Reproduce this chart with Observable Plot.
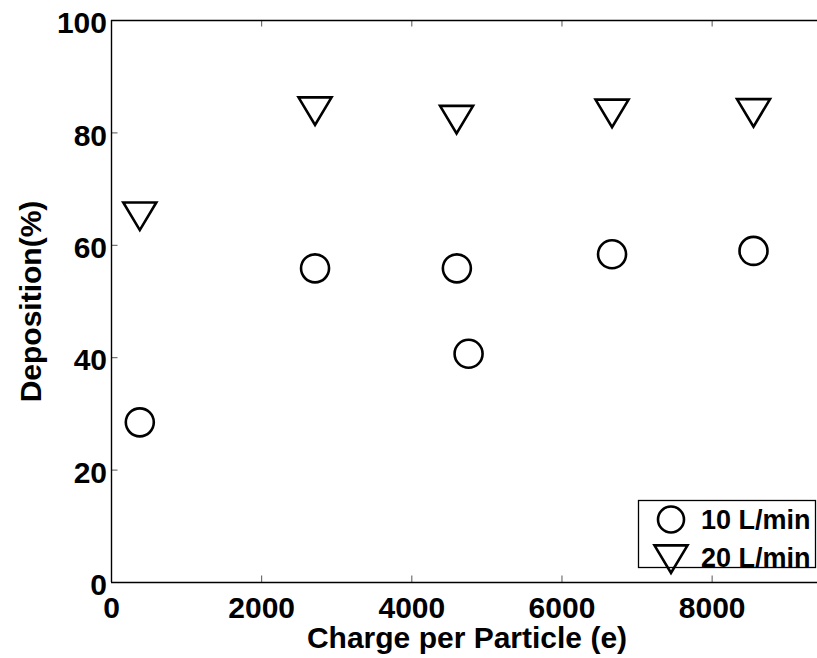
<!DOCTYPE html>
<html>
<head>
<meta charset="utf-8">
<script src="https://cdn.jsdelivr.net/npm/d3@7"></script>
<script src="https://cdn.jsdelivr.net/npm/@observablehq/plot@0.6"></script>
<style>
  body { margin: 0; background: #fff; }
  #wrap { position: relative; width: 817px; height: 658px; overflow: hidden; background: #fff; }
  #wrap svg { position: absolute; left: 0; top: 0; }
</style>
</head>
<body>
<div id="wrap"></div>
<script>
// ---- data ----
const seriesNames = ["10 L/min", "20 L/min"];
const charge10 = [377, 2711, 4600, 4756, 6667, 8551];
const deposition10 = [28.5, 55.9, 55.9, 40.7, 58.4, 59.0];
const charge20 = [377, 2711, 4596, 6667, 8551];
const deposition20 = [65.2, 83.9, 82.4, 83.5, 83.6];
const xTicks = [0, 2000, 4000, 6000, 8000];
const yTicks = [0, 20, 40, 60, 80, 100];
const xDomain = [0, 9470];
const yDomain = [0, 100];
const xLabel = "Charge per Particle (e)";
const yLabel = "Deposition(%)";

// ---- build table ----
const data = [
  ...charge10.map((c, i) => ({charge: c, deposition: deposition10[i], series: seriesNames[0]})),
  ...charge20.map((c, i) => ({charge: c, deposition: deposition20[i], series: seriesNames[1]}))
];

const FONT = '"Liberation Sans", Arial, Helvetica, sans-serif';
const W = 817, H = 658, mL = 111, mT = 20, mB = 76, mR = -5;
const plotH = H - mT - mB, plotW = W - mL - mR;
const tickLen = 6.5;
const yPerPx = (yDomain[1] - yDomain[0]) / plotH;
const xPerPx = (xDomain[1] - xDomain[0]) / plotW;

// downward triangle centred on its bounding box (MATLAB 'v' marker)
const triDown = {
  draw(ctx, size) {
    const s = Math.sqrt(size / Math.PI);
    const a = s * 1.18, t = s * 0.97, b = s * 1.0;
    ctx.moveTo(-a, -t);
    ctx.lineTo(a, -t);
    ctx.lineTo(0, b);
    ctx.closePath();
  }
};

const chart = Plot.plot({
  width: W, height: H,
  marginLeft: mL, marginTop: mT, marginBottom: mB, marginRight: mR,
  x: {domain: xDomain, axis: null},
  y: {domain: yDomain, axis: null},
  style: {fontFamily: FONT, fontWeight: "bold", fontSize: "30px", background: "white", color: "black", overflow: "hidden"},
  marks: [
    // inner ticks (bottom, top, left)
    Plot.ruleX(xTicks.slice(1), {y1: yDomain[0], y2: yDomain[0] + tickLen * yPerPx, stroke: "#555", strokeWidth: 1}),
    Plot.ruleX(xTicks.slice(1), {y1: yDomain[1], y2: yDomain[1] - tickLen * yPerPx, stroke: "#555", strokeWidth: 1}),
    Plot.ruleY(yTicks.slice(1, -1), {x1: xDomain[0], x2: xDomain[0] + tickLen * xPerPx, stroke: "#555", strokeWidth: 1}),
    // axis box lines
    Plot.ruleY([yDomain[0], yDomain[1]], {stroke: "black", strokeWidth: 1.4}),
    Plot.ruleX([xDomain[0]], {stroke: "black", strokeWidth: 1.4}),
    // tick labels
    Plot.axisX({ticks: xTicks, tickSize: 0, tickPadding: 14, label: null, tickFormat: d => `${d}`,
      fontSize: 30, fontWeight: "bold", fontFamily: FONT, fill: "black"}),
    Plot.axisY({ticks: yTicks, tickSize: 0, tickPadding: 4.5, dy: 3, label: null, tickFormat: d => `${d}`,
      fontSize: 30, fontWeight: "bold", fontFamily: FONT, fill: "black"}),
    // axis titles
    Plot.text([xLabel], {frameAnchor: "bottom", textAnchor: "middle", dy: 65.5, lineAnchor: "bottom", fontSize: 30, fontWeight: "bold", fontFamily: FONT, fill: "black"}),
    Plot.text([yLabel], {frameAnchor: "left", textAnchor: "middle", dx: -71, rotate: -90, lineAnchor: "bottom", fontSize: 30, fontWeight: "bold", fontFamily: FONT, fill: "black"}),
    // data
    Plot.dot(data.filter(d => d.series === seriesNames[0]), {x: "charge", y: "deposition", r: 14, symbol: "circle", stroke: "black", strokeWidth: 2.6, fill: "none"}),
    Plot.dot(data.filter(d => d.series === seriesNames[1]), {x: "charge", y: "deposition", r: 14, symbol: triDown, stroke: "black", strokeWidth: 2.6, fill: "none"})
  ]
});
const wrap = document.getElementById("wrap");
wrap.appendChild(chart);

// ---- legend overlay ----
const leg = d3.select(wrap).append("svg")
  .attr("width", W).attr("height", H)
  .style("font-family", FONT).style("font-weight", "bold");
const box = {x: 638.5, y: 500.5, w: 177, h: 67};
leg.append("rect").attr("x", box.x).attr("y", box.y).attr("width", box.w).attr("height", box.h)
  .attr("fill", "white").attr("stroke", "black").attr("stroke-width", 1.3);
const symX = 671, textX = 701;
const rows = [{cy: 519.5, base: 529, name: seriesNames[0], sym: "circle"},
              {cy: 559, base: 567, name: seriesNames[1], sym: "tri"}];
rows.forEach(r => {
  if (r.sym === "circle") {
    leg.append("circle").attr("cx", symX).attr("cy", r.cy).attr("r", 13)
      .attr("fill", "none").attr("stroke", "black").attr("stroke-width", 2.6);
  } else {
    const p = d3.path(); triDown.draw(p, Math.PI * 14 * 14);
    leg.append("path").attr("d", p.toString()).attr("transform", `translate(${symX},${r.cy})`)
      .attr("fill", "none").attr("stroke", "black").attr("stroke-width", 2.6);
  }
  leg.append("text").attr("x", textX).attr("y", r.base).attr("font-size", 27).attr("fill", "black").text(r.name);
});
</script>
</body>
</html>
